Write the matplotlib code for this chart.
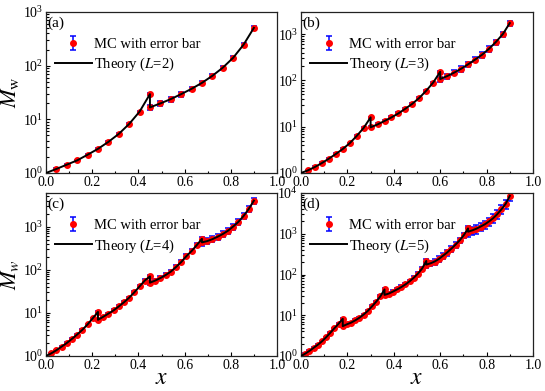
import numpy as np
import matplotlib
matplotlib.use("Agg")
import matplotlib.pyplot as plt
from matplotlib.ticker import LogLocator, MultipleLocator, NullFormatter

plt.rcParams['font.family'] = ['Liberation Serif', 'DejaVu Serif']
plt.rcParams['mathtext.fontset'] = 'stix'

# M_w values, one list per branch between two jumps
# (each branch has 11 points evenly spaced from its start x to its end x)
segs_L2 = [
    [1.0, 1.19, 1.43, 1.72, 2.19, 2.82, 3.8, 5.35, 8.2, 13.9, 29.5],
    [16.7, 19.8, 23.8, 29.5, 37, 47.8, 64.6, 91.5, 140, 245, 507],
]
segs_L3 = [
    [1.0, 1.14, 1.35, 1.64, 2.04, 2.57, 3.3, 4.4, 6.3, 9.4, 15.9],
    [9.7, 11.2, 13.3, 15.9, 19.4, 24.5, 31.3, 42, 60, 90, 154],
    [107, 124, 147, 178, 222, 280, 357, 480, 675, 1000, 1730],
]
segs_L4 = [
    [1.0, 1.15, 1.36, 1.65, 2.0, 2.5, 3.15, 4.05, 5.4, 7.5, 10.5],
    [6.9, 8.1, 9.6, 11.4, 14.1, 17.6, 22.5, 30, 41, 56, 70],
    [50, 56, 64, 75, 90, 115, 150, 205, 270, 370, 520],
    [430, 460, 510, 580, 670, 800, 1000, 1280, 1750, 2550, 4000],
]
segs_L5 = [
    [1.0, 1.14, 1.33, 1.58, 1.88, 2.28, 2.87, 3.7, 4.8, 6.2, 8.2],
    [5.4, 6.0, 6.6, 7.5, 8.7, 10.4, 12.8, 16.5, 21.5, 29, 43],
    [31.6, 34, 38, 43, 49, 57, 68, 83, 105, 140, 215],
    [175, 188, 208, 240, 288, 347, 430, 540, 690, 925, 1350],
    [1120, 1210, 1330, 1500, 1700, 2000, 2400, 3030, 3980, 5400, 8500],
]
# relative size of the MC error bar on each branch
rel_err_L2 = [0.03, 0.1]
rel_err_L3 = [0.03, 0.05, 0.13]
rel_err_L4 = [0.03, 0.06, 0.1, 0.16]
rel_err_L5 = [0.03, 0.06, 0.1, 0.16, 0.24]

x_end = 0.9
panels = [
    ("(a)", 2, segs_L2, rel_err_L2, 1e3),
    ("(b)", 3, segs_L3, rel_err_L3, 3e3),
    ("(c)", 4, segs_L4, rel_err_L4, 6e3),
    ("(d)", 5, segs_L5, rel_err_L5, 1e4),
]

fig = plt.figure(figsize=(5.45, 3.91), dpi=100)
W, H = 545.0, 391.0
rects = [
    [46 / W, 1 - 173 / H, 231 / W, 161 / H],
    [301 / W, 1 - 173 / H, 232 / W, 161 / H],
    [46 / W, 1 - 356 / H, 231 / W, 163 / H],
    [301 / W, 1 - 356 / H, 232 / W, 163 / H],
]

for i, (tag, L, segs, rel_err, ytop) in enumerate(panels):
    ax = fig.add_axes(rects[i])
    bounds = np.linspace(0, x_end, L + 1)
    xs, ys, es = [], [], []
    for k, seg in enumerate(segs):
        xk = np.linspace(bounds[k], bounds[k + 1], len(seg))
        xs.extend(xk)
        ys.extend(seg)
        es.extend([v * rel_err[k] for v in seg])
    xs, ys, es = np.array(xs), np.array(ys), np.array(es)

    mc = xs > 0
    h_mc = ax.errorbar(xs[mc], ys[mc], yerr=es[mc], fmt='o', ms=4, mfc='red', mec='red',
                       ecolor='blue', elinewidth=1.1, capsize=2.2, capthick=1.1,
                       zorder=2, label='MC with error bar')
    h_th, = ax.plot(xs, ys, color='black', lw=1.4, zorder=3,
                    label='Theory ($L$=%d)' % L)

    ax.set_yscale('log')
    ax.set_xlim(0, 1)
    ax.set_ylim(1, ytop)
    ax.xaxis.set_major_locator(MultipleLocator(0.2))
    ax.xaxis.set_minor_locator(MultipleLocator(0.1))
    ax.xaxis.set_major_formatter(plt.FuncFormatter(lambda v, p: '%.1f' % v))
    ax.yaxis.set_major_locator(LogLocator(base=10))
    ax.yaxis.set_minor_locator(LogLocator(base=10, subs=np.arange(2, 10)))
    ax.yaxis.set_minor_formatter(NullFormatter())
    ax.tick_params(which='both', direction='in', labelsize=10, pad=2, width=0.8)
    ax.tick_params(which='major', length=3)
    ax.tick_params(which='minor', length=1.8)
    for sp in ax.spines.values():
        sp.set_linewidth(0.9)
        sp.set_color('#222222')

    ax.text(0.008, 0.93, tag, transform=ax.transAxes, fontsize=11, va='center', ha='left')
    ax.legend([h_mc, h_th], ['MC with error bar', 'Theory ($L$=%d)' % L],
              loc='upper left', bbox_to_anchor=(0.04, 0.84), frameon=False,
              fontsize=10.5, borderpad=0, borderaxespad=0, handlelength=2.5,
              handletextpad=0.15, labelspacing=0.35)

    if i in (0, 2):
        ylab = r'$M_{\rm w}$' if i == 0 else r'$M_w$'
        ax.set_ylabel(ylab, fontsize=16, labelpad=1)
    if i in (2, 3):
        ax.set_xlabel('$x$', fontsize=17, labelpad=-3)

fig.savefig('out.png', dpi=100)
